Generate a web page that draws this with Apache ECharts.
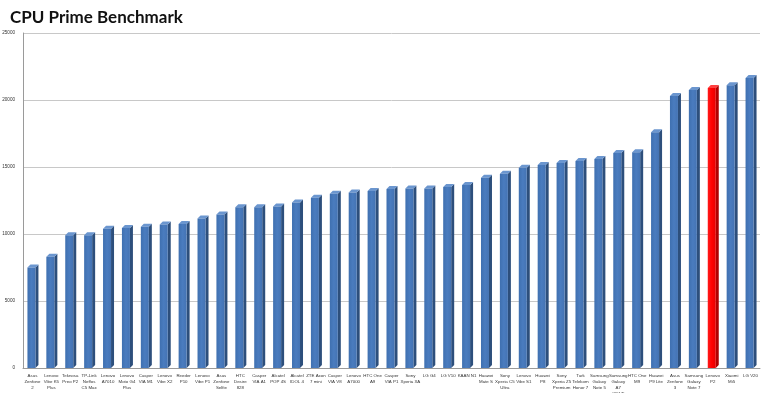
<!DOCTYPE html>
<html><head><meta charset="utf-8">
<script src="https://cdn.jsdelivr.net/npm/echarts@6/dist/echarts.min.js"></script>
<style>html,body{margin:0;padding:0;background:#fff}#c{width:770px;height:393px}</style>
</head><body><div id="c"></div>
<script>
const categories = [
 "Asus\nZenfone\n2","Lenovo\nVibe K5\nPlus","Teknosa\nPreo P2","TP-Link\nNeffos\nC5 Max","Lenovo\nA7010",
 "Lenovo\nMoto G4\nPlus","Casper\nVIA M1","Lenovo\nVibe X2","Reeder\nP10","Lenovo\nVibe P1",
 "Asus\nZenfone\nSelfie","HTC\nDesire\n828","Casper\nVIA A1","Alcatel\nPOP 4S","Alcatel\nIDOL 4",
 "ZTE Axon\n7 mini","Casper\nVIA V8","Lenovo\nA7000","HTC One\nA9","Casper\nVIA P1",
 "Sony\nXperia XA","LG G4","LG V10","KAAN N1","Huawei\nMate S",
 "Sony\nXperia C5\nUltra","Lenovo\nVibe S1","Huawei\nP8","Sony\nXperia Z5\nPremium","Turk\nTelekom\nHonor 7",
 "Samsung\nGalaxy\nNote 5","Samsung\nGalaxy\nA7\n(2017)","HTC One\nM9","Huawei\nP9 Lite","Asus\nZenfone\n3",
 "Samsung\nGalaxy\nNote 7","Lenovo\nP2","Xiaomi\nMi5","LG V20"
];
const scores = [
 7500, 8300, 9900, 9900, 10400,
 10450, 10550, 10700, 10750, 11150,
 11450, 12000, 12000, 12050, 12350,
 12700, 13000, 13100, 13200, 13350,
 13400, 13400, 13500, 13650, 14200,
 14500, 14950, 15150, 15300, 15450,
 15600, 16050, 16100, 17600, 20300,
 20750, 20900, 21100, 21650
];
const highlighted = ["Lenovo\nP2"];
const yTicks = [0, 5000, 10000, 15000, 20000, 25000];

const chart = echarts.init(document.getElementById('c'));
const data = scores.map((v, i) => [i, v, highlighted.includes(categories[i]) ? 1 : 0]);

function renderItem(params, api) {
  const top = api.coord([api.value(0), api.value(1)]);
  const base = api.coord([api.value(0), 0]);
  const hl = api.value(2) === 1;
  const w = 8, d = 3;
  const x0 = top[0] - 5, x1 = x0 + w;
  const front = hl ? '#ff0000' : '#4a7cbf';
  const side = hl ? '#b00000' : '#2d4f7c';
  const topc = hl ? '#ff4040' : '#6b96cf';
  return {
    type: 'group',
    children: [
      {type: 'polygon', shape: {points: [[x1, top[1]], [x1 + d, top[1] - d], [x1 + d, base[1] - d], [x1, base[1]]]}, style: {fill: side}},
      {type: 'polygon', shape: {points: [[x0, top[1]], [x0 + d, top[1] - d], [x1 + d, top[1] - d], [x1, top[1]]]}, style: {fill: topc}},
      {type: 'rect', shape: {x: x0, y: top[1], width: w, height: base[1] - top[1]}, style: {fill: {type: 'linear', x: 0, y: 0, x2: 1, y2: 0, colorStops: [{offset: 0, color: hl ? '#ff1a1a' : '#3f70b0'}, {offset: 0.5, color: front}, {offset: 1, color: hl ? '#e60000' : '#4473b3'}]}}}
    ]
  };
}

chart.setOption({
  animation: false,
  title: {text: 'CPU Prime Benchmark', left: 5, top: 4, textStyle: {fontFamily: 'Lato', fontWeight: 'bold', fontSize: 17, color: '#111'}},
  grid: {left: 23, right: 10, top: 33, bottom: 25, containLabel: false, outerBoundsMode: 'none'},
  xAxis: {
    type: 'category', data: categories,
    axisLine: {lineStyle: {color: '#9a9a9a'}}, axisTick: {show: false},
    axisLabel: {interval: 0, fontSize: 4.4, lineHeight: 6, color: '#333', margin: 5, fontFamily: 'Liberation Sans', hideOverlap: false}
  },
  yAxis: {
    type: 'value', min: yTicks[0], max: yTicks[yTicks.length - 1], interval: 5000,
    axisLine: {show: true, lineStyle: {color: '#9a9a9a'}},
    axisTick: {show: false},
    splitLine: {lineStyle: {color: '#c8c8c8', width: 1}},
    axisLabel: {fontSize: 4.6, color: '#333', margin: 8, fontFamily: 'Liberation Sans', formatter: v => String(v)}
  },
  series: [{type: 'custom', renderItem: renderItem, data: data, encode: {x: 0, y: 1}}]
});
</script></body></html>
